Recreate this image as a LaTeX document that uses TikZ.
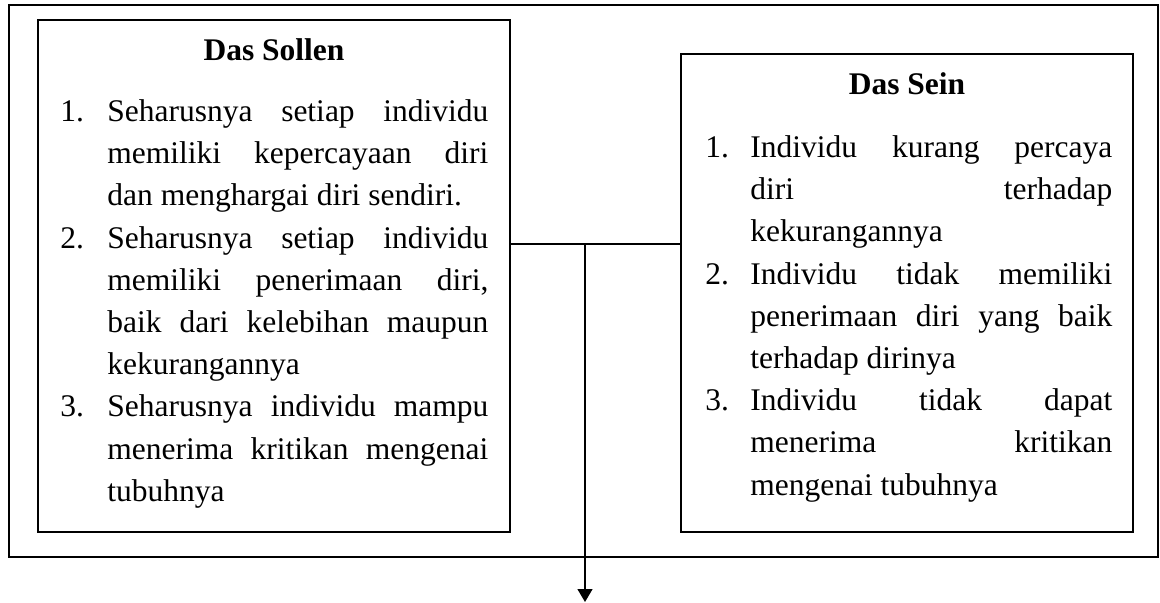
\documentclass[tikz,border=0pt]{standalone}
\usepackage{fontspec}
\setmainfont{Liberation Serif}
\usetikzlibrary{arrows.meta}
\newcommand{\numitem}[2]{\noindent\hangindent=#1\relax\hangafter=1\relax\makebox[#1][l]{\strut#2}\ignorespaces}
\newcommand{\bodysetup}{\hyphenpenalty=10000\relax\tolerance=10000\relax}
\begin{document}
\begin{tikzpicture}[x=0.5pt,y=-0.5pt,
  box/.style={draw, line width=1pt, inner sep=0pt, outer sep=0pt, anchor=north west},
  titletext/.style={font=\fontsize{15.75pt}{21.1pt}\selectfont\bfseries, anchor=base, inner sep=0pt},
  bodytext/.style={font=\fontsize{15.75pt}{21.1pt}\selectfont, anchor=north west, inner sep=0pt, align=justify},
  link/.style={line width=0.65pt}]
\useasboundingbox (0,0) rectangle (1160,603);
% boxes
\node[box, minimum width=574.5pt, minimum height=276pt] (outer) at (9,5) {};
\node[box, minimum width=236pt, minimum height=256pt] (sollen) at (38,20) {};
\node[box, minimum width=226pt, minimum height=239pt] (sein) at (681,54) {};
% titles
\node[titletext] (tsollen) at (274,61) {Das Sollen};
\node[titletext] (tsein) at (907,95) {Das Sein};
% bodies
\node[bodytext, text width=214pt] (bsollen) at (60,91.5) {\bodysetup
\numitem{23.5pt}{1.}Seharusnya setiap individu\linebreak memiliki kepercayaan diri\linebreak dan menghargai diri sendiri.\par
\numitem{23.5pt}{2.}Seharusnya setiap individu\linebreak memiliki penerimaan diri,\linebreak baik dari kelebihan maupun\linebreak kekurangannya\par
\numitem{23.5pt}{3.}Seharusnya individu mampu\linebreak menerima kritikan mengenai\linebreak tubuhnya\par};
\node[bodytext, text width=203.5pt] (bsein) at (705,127.5) {\bodysetup
\numitem{22.5pt}{1.}Individu kurang percaya\linebreak diri terhadap\linebreak kekurangannya\par
\numitem{22.5pt}{2.}Individu tidak memiliki\linebreak penerimaan diri yang baik\linebreak terhadap dirinya\par
\numitem{22.5pt}{3.}Individu tidak dapat\linebreak menerima kritikan\linebreak mengenai tubuhnya\par};
% connectors
\coordinate (j) at (585,244);
\coordinate (tip) at (585,602);
\draw[link] (sollen.east |- j) -- (sein.west |- j);
\draw[link, -{Triangle[width=7.5pt,length=6.5pt]}] (j) -- (tip);
\end{tikzpicture}
\end{document}
